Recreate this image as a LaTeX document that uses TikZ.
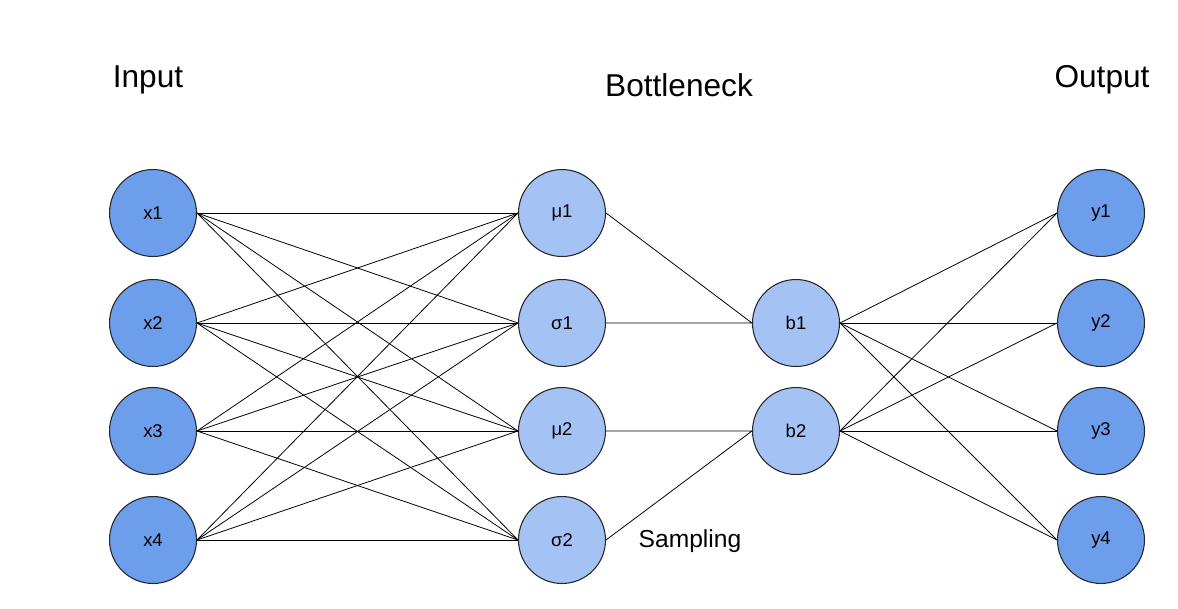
\documentclass[tikz,border=0pt]{standalone}
\usepackage{fontspec}
\setmainfont{Liberation Sans}
\definecolor{darkblue}{HTML}{6D9EEB}
\definecolor{lightblue}{HTML}{A4C2F4}
\tikzset{
  neuron/.style={circle, draw=black!85, line width=0.6pt, minimum size=1.74cm, inner sep=0pt, font=\fontsize{10.5}{12}\selectfont},
  outer/.style={neuron, fill=darkblue},
  inner/.style={neuron, fill=lightblue},
  title/.style={font=\fontsize{18}{22}\selectfont},
  link/.style={line width=0.45pt}
}
\begin{document}
\begin{tikzpicture}[x=0.02cm, y=-0.02cm]
        \useasboundingbox (0,0) rectangle (1178,609);
        % titles
        \node[title](tin) at (148,80){Input};
        \node[title](tbot) at (679,85){Bottleneck};
        \node[title](tout) at (1102,80){Output};
        
        %layers
        \foreach \i/\r in {1/213,2/323,3/431,4/540}{
          \node[outer](x\i) at (153,\r){x\i};
          \node[outer](y\i) at (1101,\r){y\i};
        }
        \node[inner](m1) at (562,213){μ1};
        \node[inner](s1) at (562,323){σ1};
        \node[inner](m2) at (562,431){μ2};
        \node[inner](s2) at (562,540){σ2};
        \node[inner](b1) at (796,323){b1};
        \node[inner](b2) at (796,431){b2};
        \node[font=\fontsize{14}{17}\selectfont](samp) at (690,541){Sampling};
        
        %encoder
        \foreach \i in {1,...,4}
          \foreach \j in {m1,s1,m2,s2}
            \draw[link] (x\i.east) -- (\j.west);
        
        %sampling
        \draw[link] (m1.east) -- (b1.west)
         (s1.east) -- (b1.west)
         (m2.east) -- (b2.west)
         (s2.east) -- (b2.west);
        
        %decoder
        \foreach \j in {1,...,4}{
          \draw[link] (b1.east) -- (y\j.west);
          \draw[link] (b2.east) -- (y\j.west);
        }
\end{tikzpicture}
\end{document}
